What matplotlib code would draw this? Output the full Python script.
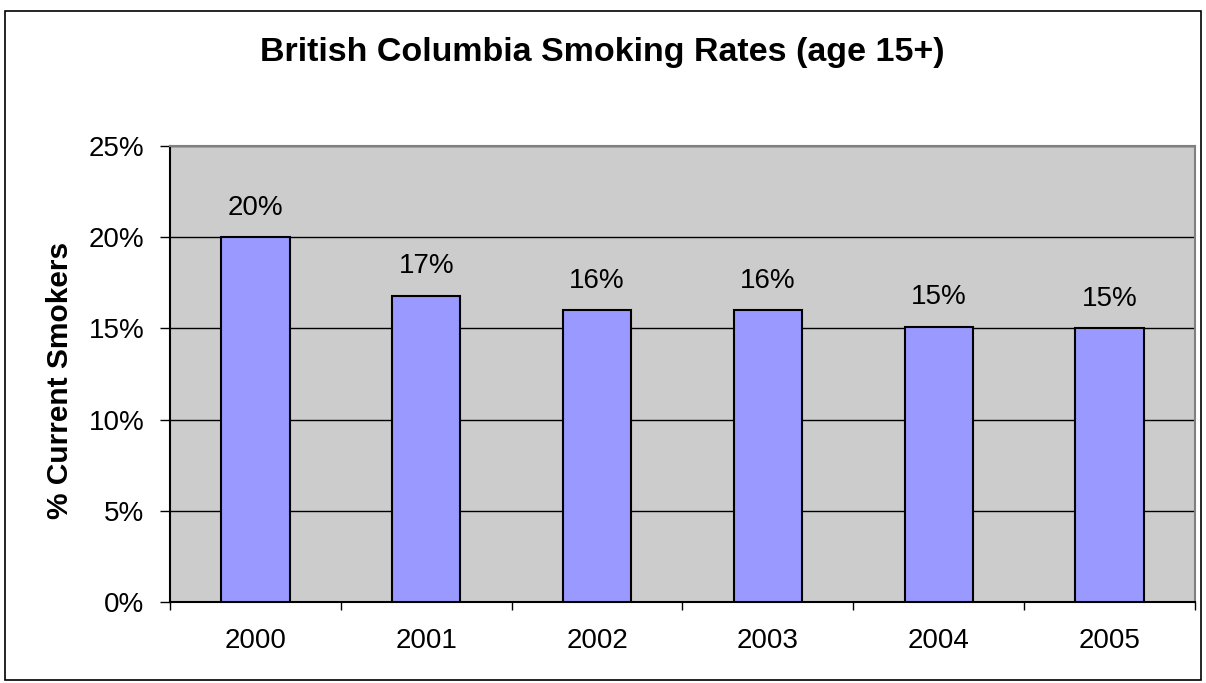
import numpy as np
import matplotlib.pyplot as plt
from matplotlib.patches import Rectangle
from matplotlib.ticker import FixedLocator

# --- Data ---
years = ["2000", "2001", "2002", "2003", "2004", "2005"]
rates = [20.0, 16.8, 16.0, 16.0, 15.1, 15.0]  # % current smokers
yticks = [0, 5, 10, 15, 20, 25]

plt.rcParams['font.family'] = ['Liberation Sans', 'DejaVu Sans']

fig = plt.figure(figsize=(12.06, 6.83), dpi=100)
ax = fig.add_axes([170 / 1206, 1 - 602 / 683, (1195 - 170) / 1206, (602 - 146) / 683])

# outer chart border
fig.patches.append(Rectangle((5 / 1206, 1 - 680 / 683), 1196 / 1206, 669 / 683,
                             transform=fig.transFigure, fill=False,
                             edgecolor='black', linewidth=1.2))

x = np.arange(len(years))
ax.set_facecolor('#CCCCCC')
ax.set_axisbelow(True)
ax.yaxis.grid(True, color='black', linewidth=1)
ax.bar(x, rates, width=0.4, color='#9999FF', edgecolor='black', linewidth=1.5, zorder=3)

for xi, v in zip(x, rates):
    ax.annotate(f"{v:.0f}%", (xi, v), xytext=(0, 16), textcoords='offset points',
                ha='center', va='baseline', fontsize=20)

ax.set_xlim(-0.5, len(years) - 0.5)
ax.set_ylim(0, 25)
ax.set_yticks(yticks)
ax.set_yticklabels([f"{t}%" for t in yticks], fontsize=20)

ax.xaxis.set_major_locator(FixedLocator(np.arange(len(years) + 1) - 0.5))
ax.set_xticklabels([])
ax.xaxis.set_minor_locator(FixedLocator(x))
ax.set_xticklabels(years, minor=True, fontsize=20)
ax.tick_params(axis='x', which='minor', length=0, pad=19)
ax.tick_params(axis='x', which='major', length=5.5, width=1, direction='out')
ax.tick_params(axis='y', length=7.5, width=1, direction='out', pad=11)

for s in ['top', 'right']:
    ax.spines[s].set_color('#808080')
    ax.spines[s].set_linewidth(1.5)
for s in ['left', 'bottom']:
    ax.spines[s].set_color('black')
    ax.spines[s].set_linewidth(1.5)

ax.set_ylabel("% Current Smokers", fontsize=21.5, fontweight='bold')
ax.yaxis.set_label_coords(-0.094, 0.485)
fig.text(602 / 1206, 1 - 53 / 683, "British Columbia Smoking Rates (age 15+)",
         ha='center', va='center', fontsize=24.5, fontweight='bold')

fig.savefig("out.png", dpi=100)
